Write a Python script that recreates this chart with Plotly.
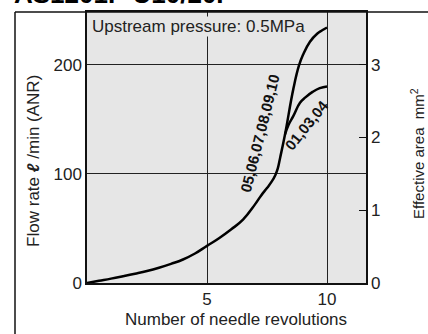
import plotly.graph_objects as go

# Flow characteristic: needle revolutions vs. flow rate (upstream 0.5 MPa)
revs_main = [0, 0.5, 1, 1.5, 2, 2.5, 3, 3.5, 4, 4.5, 5, 5.5, 6, 6.5, 7, 7.25, 7.5, 7.7,
             7.85, 7.95, 8.05, 8.25, 8.6, 8.83, 9.0, 9.29, 9.6, 9.8, 10]
flow_main = [0, 2, 4, 6.2, 8.5, 11, 14, 17.5, 21.5, 27, 34, 41, 49, 58, 72, 80, 87, 93,
             99, 105, 115, 136, 178, 199, 209, 221, 228.5, 231.5, 234]

revs_low = [8.25, 8.4, 8.6, 8.875, 9.1, 9.4, 9.7, 10]
flow_low = [136, 145, 153, 165, 170, 175, 178.5, 180]

label_main = "05,06,07,08,09,10"
label_low = "01,03,04"
flow_ticks = [0, 100, 200]
area_ticks = [0, 1, 2, 3]
rev_ticks = [0, 5, 10]

W, H = 428, 334
L, R, T, B = 87, 62, 10, 51
PW, PH = W - L - R, H - T - B
X_MAX = PW / 24.0
Y_MAX = PH / 1.1
AREA_MAX = Y_MAX * 3 / 200


def px_x(p):
    return (p - L) / PW


def px_y(p):
    return (H - B - p) / PH


FONT = "Liberation Sans, Arial, sans-serif"
BG = "#e6e6e6"

fig = go.Figure()
fig.add_trace(go.Scatter(x=revs_main, y=flow_main, mode="lines",
                         line=dict(color="black", width=2.5, shape="spline", smoothing=1.3),
                         showlegend=False, hoverinfo="skip"))
fig.add_trace(go.Scatter(x=revs_low, y=flow_low, mode="lines",
                         line=dict(color="black", width=2.5, shape="spline", smoothing=1.3),
                         showlegend=False, hoverinfo="skip"))
# invisible trace to activate the effective-area axis
fig.add_trace(go.Scatter(x=[0], y=[0], yaxis="y2", mode="markers",
                         marker=dict(opacity=0), showlegend=False, hoverinfo="skip"))

fig.update_layout(
    width=W, height=H,
    margin=dict(l=L, r=R, t=T, b=B),
    paper_bgcolor="white", plot_bgcolor=BG,
    font=dict(family=FONT, color="#222", size=17),
    xaxis=dict(range=[0, X_MAX], tickvals=rev_ticks, ticktext=["", "5", "10"],
               showgrid=True, gridcolor="#222", gridwidth=1,
               showline=True, linecolor="#111", linewidth=1.5, mirror=True,
               zeroline=False, ticks="", tickfont=dict(size=17)),
    yaxis=dict(range=[0, Y_MAX], tickvals=flow_ticks,
               showgrid=True, gridcolor="#222", gridwidth=1,
               showline=True, linecolor="#111", linewidth=1.5, mirror=True,
               zeroline=False, ticks="", tickfont=dict(size=17)),
    yaxis2=dict(range=[0, AREA_MAX], tickvals=area_ticks, overlaying="y", side="right",
                showgrid=False, zeroline=False, ticks="inside", ticklen=7,
                tickcolor="#111", tickwidth=1, showline=False, tickfont=dict(size=17),
                ticklabelstandoff=4),
)

ann = []
ann.append(dict(xref="paper", yref="paper", x=px_x(236), y=px_y(320),
                text="Number of needle revolutions", showarrow=False,
                xanchor="center", yanchor="middle", font=dict(size=17)))
ann.append(dict(xref="paper", yref="paper", x=px_x(34), y=px_y(160),
                text="Flow rate <b><i>ℓ</i></b> /min (ANR)", textangle=-90, showarrow=False,
                xanchor="center", yanchor="middle", font=dict(size=17)))
ann.append(dict(xref="paper", yref="paper", x=px_x(418), y=px_y(153),
                text="Effective area  mm<sup>2</sup>", textangle=-90, showarrow=False,
                xanchor="center", yanchor="middle", font=dict(size=15)))
ann.append(dict(xref="paper", yref="paper", x=px_x(91), y=px_y(25),
                text="Upstream pressure: 0.5MPa", showarrow=False, bgcolor=BG, borderpad=0,
                xanchor="left", yanchor="middle", font=dict(size=17)))
ann.append(dict(xref="x", yref="y", x=7.21, y=136.6, text=f"<b>{label_main}</b>",
                textangle=-76, showarrow=False, xanchor="center", yanchor="middle",
                font=dict(size=15, color="#111")))
ann.append(dict(xref="x", yref="y", x=9.125, y=144.5, text=f"<b>{label_low}</b>",
                textangle=-51, showarrow=False, xanchor="center", yanchor="middle",
                font=dict(size=15, color="#111")))
ann.append(dict(xref="paper", yref="paper", x=px_x(12), y=px_y(9),
                text="<b>AS1201F-U10/20F</b>", showarrow=False,
                xanchor="left", yanchor="bottom", font=dict(size=26, color="black")))
fig.update_layout(annotations=ann)

# outer frame of the sheet
fig.add_shape(type="line", xref="paper", yref="paper",
              x0=px_x(15), x1=px_x(W + 5), y0=1, y1=1, line=dict(color="#111", width=1.5))
fig.add_shape(type="line", xref="paper", yref="paper",
              x0=px_x(15), x1=px_x(15), y0=1, y1=px_y(H + 5), line=dict(color="#111", width=1.5))

fig.write_html("out.html")
